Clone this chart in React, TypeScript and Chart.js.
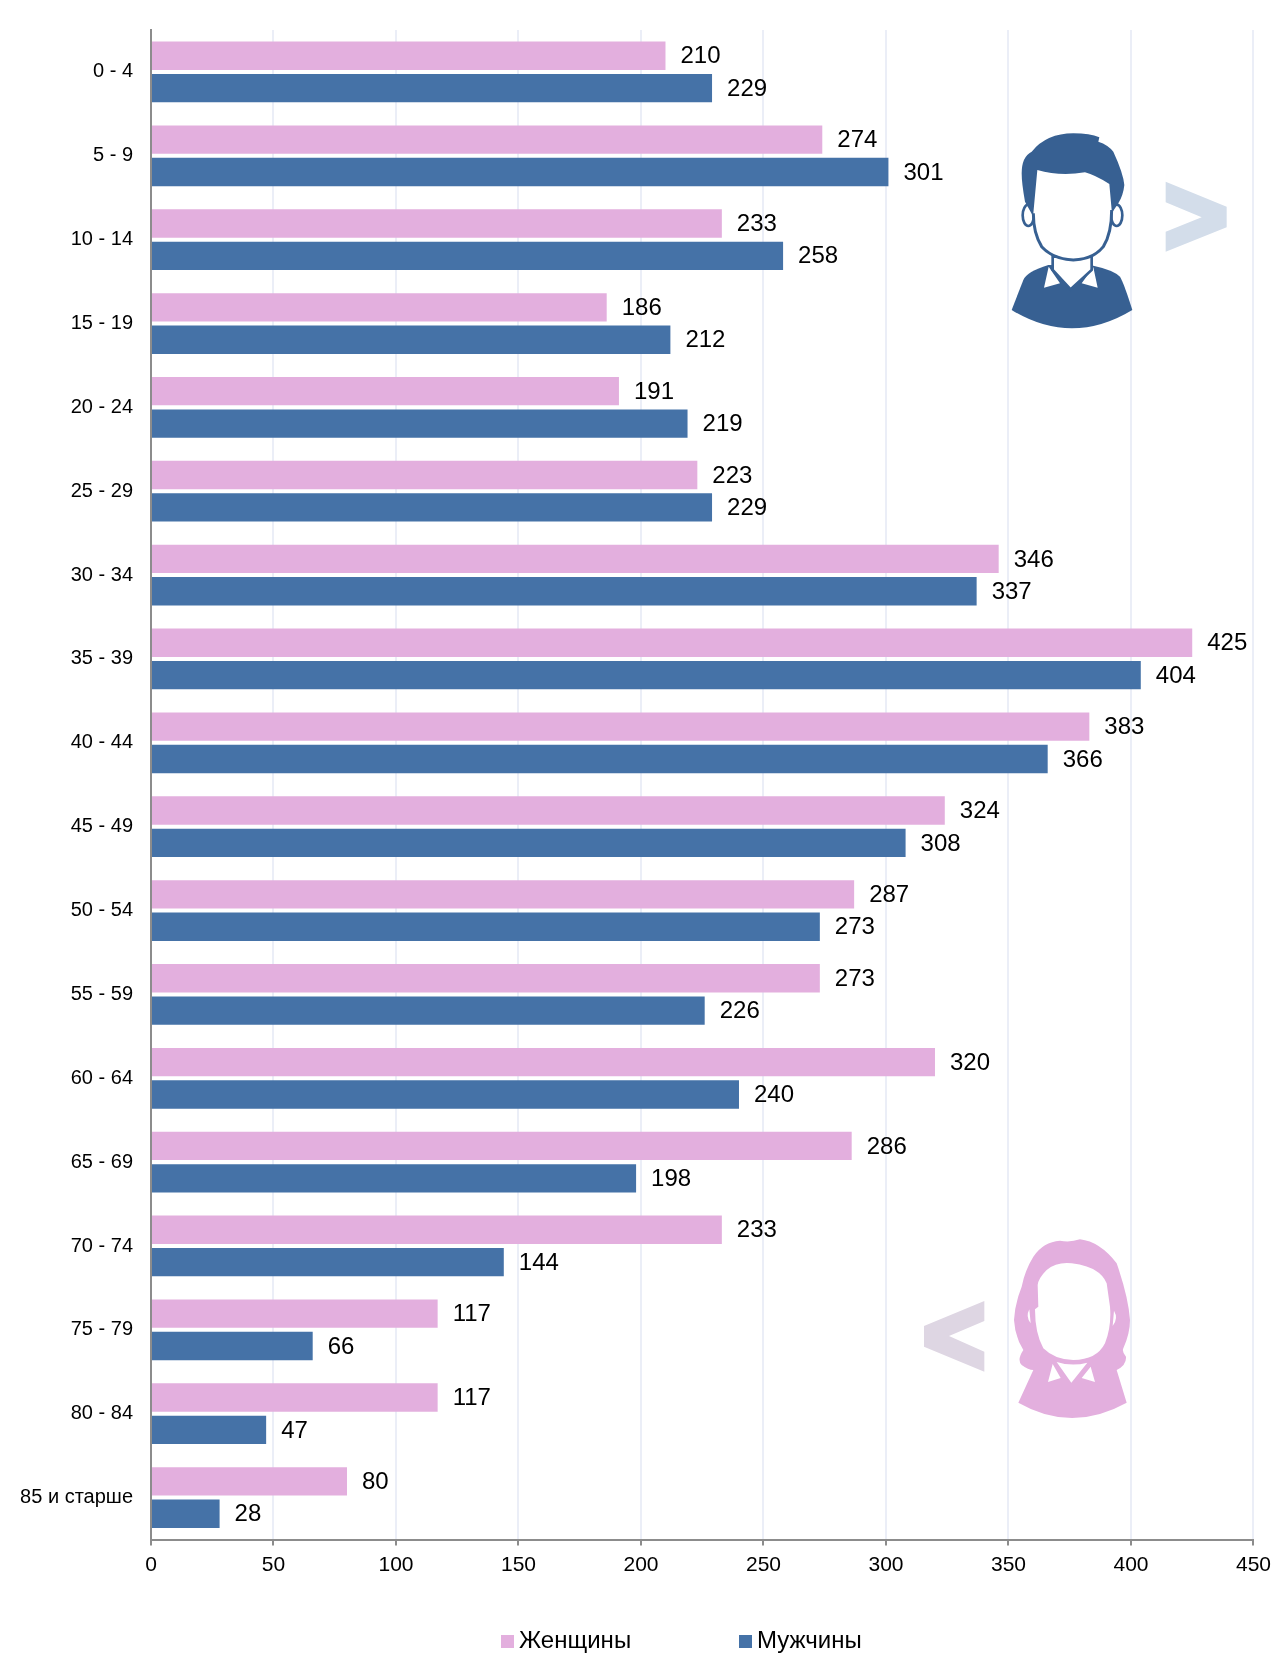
import React, { useEffect, useRef } from "react";
import { Chart, registerables } from "chart.js";

Chart.register(...registerables);

const ageGroups = ["0 - 4", "5 - 9", "10 - 14", "15 - 19", "20 - 24", "25 - 29", "30 - 34", "35 - 39", "40 - 44", "45 - 49", "50 - 54", "55 - 59", "60 - 64", "65 - 69", "70 - 74", "75 - 79", "80 - 84", "85 и старше"];
const women = [210, 274, 233, 186, 191, 223, 346, 425, 383, 324, 287, 273, 320, 286, 233, 117, 117, 80];
const men = [229, 301, 258, 212, 219, 229, 337, 404, 366, 308, 273, 226, 240, 198, 144, 66, 47, 28];
const womenLabel = "Женщины";
const menLabel = "Мужчины";

const PINK = "#E3AFDE";
const BLUE = "#4572A7";
const FONT = '"Liberation Sans", Arial, sans-serif';

const valueLabels = {
  id: "valueLabels",
  afterDatasetsDraw(chart: any) {
    const { ctx } = chart;
    ctx.save();
    ctx.font = `24px ${FONT}`;
    ctx.fillStyle = "#000";
    ctx.textAlign = "left";
    ctx.textBaseline = "middle";
    chart.data.datasets.forEach((ds: any, i: number) => {
      chart.getDatasetMeta(i).data.forEach((bar: any, j: number) => {
        ctx.fillText(String(ds.data[j]), bar.x + 15, bar.y + 1);
      });
    });
    ctx.restore();
  },
};

function Icons() {
  const dark = "#376092";
  const pink = "#E3AFDE";
  return (
    <svg width={1278} height={1654} style={{ position: "absolute", left: 0, top: 0, pointerEvents: "none" }}>
      <g transform="translate(980,110) scale(0.33333)">
        <path d="M557 215 L740 290 L740 352 L557 425 L557 365 L665 322 L557 277 Z" fill="#D3DDEA" />
        <path d="M95 600 L130 510 Q140 485 205 465 L340 467 Q400 480 420 500 Q432 520 457 600 Q275 710 95 600 Z" fill={dark} />
        <path d="M206 470 L192 533 L240 520 Z M340 472 L353 533 L305 520 Z" fill="#fff" />
        <path d="M218 440 L218 480 L272 538 L335 480 L335 440 Z" fill="#fff" stroke={dark} strokeWidth={8} />
        <ellipse cx={145} cy={316} rx={17} ry={32} fill="#fff" stroke={dark} strokeWidth={8} />
        <ellipse cx={410} cy={316} rx={17} ry={32} fill="#fff" stroke={dark} strokeWidth={8} />
        <path d="M135 275 Q125 220 125 190 Q125 140 155 125 Q200 70 280 70 Q330 70 358 82 L355 95 Q385 105 400 125 Q430 190 433 225 Q430 255 415 280 L395 310 L300 300 L160 320 Z" fill={dark} />
        <path d="M172 180 L160 310 Q160 370 185 410 Q220 448 280 450 Q340 448 370 410 Q395 370 395 300 L388 222 Q345 195 315 187 Q240 200 172 180 Z" fill="#fff" />
        <path d="M160 310 Q160 370 185 410 Q220 448 280 450 Q340 448 370 410 Q395 370 395 300" fill="none" stroke={dark} strokeWidth={9} />
      </g>
      <g transform="translate(900,1220) scale(0.33333)">
        <path d="M253 243 L253 303 L147 348 L253 395 L253 455 L72 380 L72 318 Z" fill="#DED6E3" />
        <path d="M540 58 Q510 68 480 62 Q430 65 400 110 Q375 150 365 200 Q345 250 342 300 Q345 350 370 390 Q350 420 365 435 Q385 450 400 450 L355 548 Q515 640 680 548 L650 450 Q680 435 678 410 Q665 395 670 385 Q690 340 690 300 Q685 230 650 130 Q600 65 540 58 Z" fill={pink} />
        <path d="M515 130 Q470 125 440 150 Q415 175 413 195 L415 260 L405 268 Q405 340 430 385 Q465 420 520 420 Q590 420 615 370 Q635 320 630 260 L620 190 Q600 140 515 130 Z" fill="#fff" />
        <path d="M388 268 Q376 290 392 310 Z M642 272 Q656 295 638 318 Z" fill="#fff" />
        <path d="M458 432 L444 486 L482 474 Z M572 440 L585 486 L545 474 Z" fill="#fff" />
        <path d="M470 426 L514 488 L562 428 Q515 440 470 426 Z" fill="#fff" />
      </g>
    </svg>
  );
}

export default function App() {
  const ref = useRef<HTMLCanvasElement>(null);
  useEffect(() => {
    const chart = new Chart(ref.current!, {
      type: "bar",
      data: {
        labels: ageGroups,
        datasets: [
          { label: womenLabel, data: women, backgroundColor: PINK, categoryPercentage: 0.773, barPercentage: 0.875 },
          { label: menLabel, data: men, backgroundColor: BLUE, categoryPercentage: 0.773, barPercentage: 0.875 },
        ],
      },
      options: {
        indexAxis: "y",
        animation: false,
        responsive: false,
        layout: { padding: { top: 13.5, right: 22, left: 0, bottom: 0 } },
        plugins: { legend: { display: false }, tooltip: { enabled: false }, title: { display: false } },
        scales: {
          x: {
            min: 0,
            max: 450,
            afterFit: (s: any) => { s.height = 114.5; },
            ticks: { stepSize: 50, color: "#000", font: { size: 21, family: FONT }, padding: 7, maxRotation: 0 },
            grid: { color: "#EBEEF7", lineWidth: 2, tickColor: "#8C8C8C", tickLength: 6, tickWidth: 2 },
            border: { color: "#8C8C8C", width: 2 },
          },
          y: {
            afterFit: (s: any) => { s.width = 151; },
            ticks: { color: "#000", font: { size: 20, family: FONT }, padding: 18, autoSkip: false },
            grid: { display: false, drawTicks: false },
            border: { color: "#8C8C8C", width: 2 },
          },
        },
      },
      plugins: [valueLabels],
    } as any);
    return () => chart.destroy();
  }, []);

  const legendItems = [
    { label: womenLabel, color: PINK, box: 501, text: 519 },
    { label: menLabel, color: BLUE, box: 739, text: 757 },
  ];

  return (
    <div style={{ position: "absolute", left: 0, top: 0, width: 1278, height: 1654, background: "#fff", overflow: "hidden" }}>
      <canvas ref={ref} width={1278} height={1654} style={{ display: "block" }} />
      <Icons />
      {legendItems.map((it) => (
        <React.Fragment key={it.label}>
          <div style={{ position: "absolute", left: it.box, top: 1635, width: 13, height: 13, background: it.color }} />
          <div style={{ position: "absolute", left: it.text, top: 1626, font: `24px/28px ${FONT}`, color: "#000", whiteSpace: "nowrap" }}>{it.label}</div>
        </React.Fragment>
      ))}
    </div>
  );
}
